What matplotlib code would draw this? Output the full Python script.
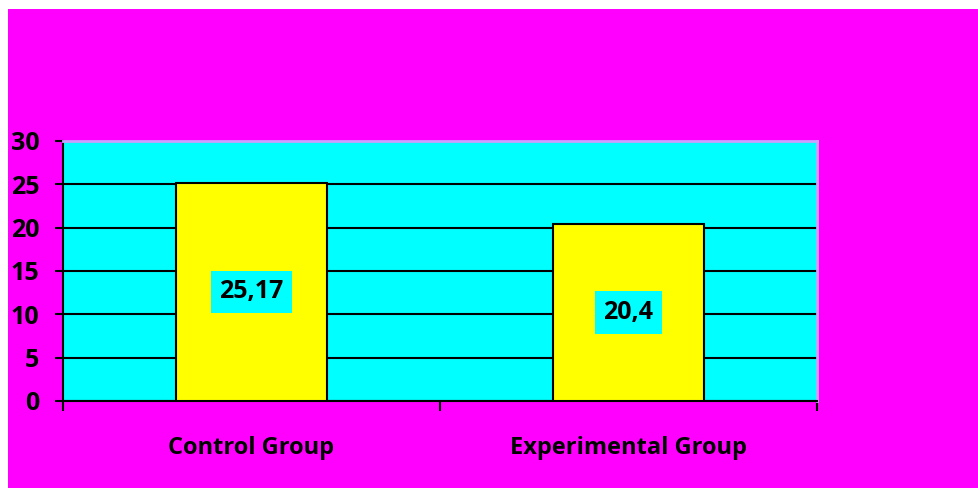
import matplotlib.pyplot as plt
from matplotlib.patches import Rectangle

# group scores
groups = ['Control Group', 'Experimental Group']
scores = [25.17, 20.4]
score_labels = ['25,17', '20,4']
y_ticks = [0, 5, 10, 15, 20, 25, 30]

plt.rcParams['font.family'] = ['Open Sans', 'DejaVu Sans']
plt.rcParams['font.weight'] = 'bold'

W, H = 979, 488
fig = plt.figure(figsize=(W / 100, H / 100), dpi=100, facecolor='white')
# magenta chart area inside a thin white margin
fig.patches.append(Rectangle((8 / W, 0), 1 - 8 / W, 1 - 9 / H, transform=fig.transFigure,
                             facecolor='#ff00ff', edgecolor='none', zorder=-10))

ax = fig.add_axes([63 / W, 87 / H, (817 - 63) / W, (401 - 141) / H])
ax.set_facecolor('#00ffff')

x = list(range(len(groups)))
ax.bar(x, scores, width=0.4, color='#ffff00', edgecolor='black', linewidth=1.5, zorder=3)

for xi, v, lab in zip(x, scores, score_labels):
    ax.text(xi, v / 2, lab, ha='center', va='center', fontsize=18, fontweight='bold',
            color='black', zorder=4,
            bbox=dict(boxstyle='square,pad=0.35', facecolor='#00ffff', edgecolor='none'))

ax.set_xlim(-0.5, len(groups) - 0.5)
ax.set_ylim(0, 30)
ax.set_yticks(y_ticks)
ax.yaxis.grid(True, color='black', linewidth=1.5, zorder=1)
ax.set_axisbelow(True)

# boundary ticks between categories, names on minor ticks
ax.set_xticks([i - 0.5 for i in range(len(groups) + 1)])
ax.set_xticklabels([])
ax.set_xticks(x, minor=True)
ax.set_xticklabels(groups, minor=True, fontsize=17, fontweight='bold')
ax.tick_params(axis='x', which='major', direction='out', length=7, width=1.5)
ax.tick_params(axis='x', which='minor', length=0, pad=25)
ax.tick_params(axis='y', direction='out', length=6, width=1.5, pad=11, labelsize=18)

for side in ['left', 'bottom']:
    ax.spines[side].set_color('black')
    ax.spines[side].set_linewidth(1.5)
for side in ['top', 'right']:
    ax.spines[side].set_color('#c8a0ff')
    ax.spines[side].set_linewidth(2)

fig.savefig('out.png', dpi=100, facecolor=fig.get_facecolor())
